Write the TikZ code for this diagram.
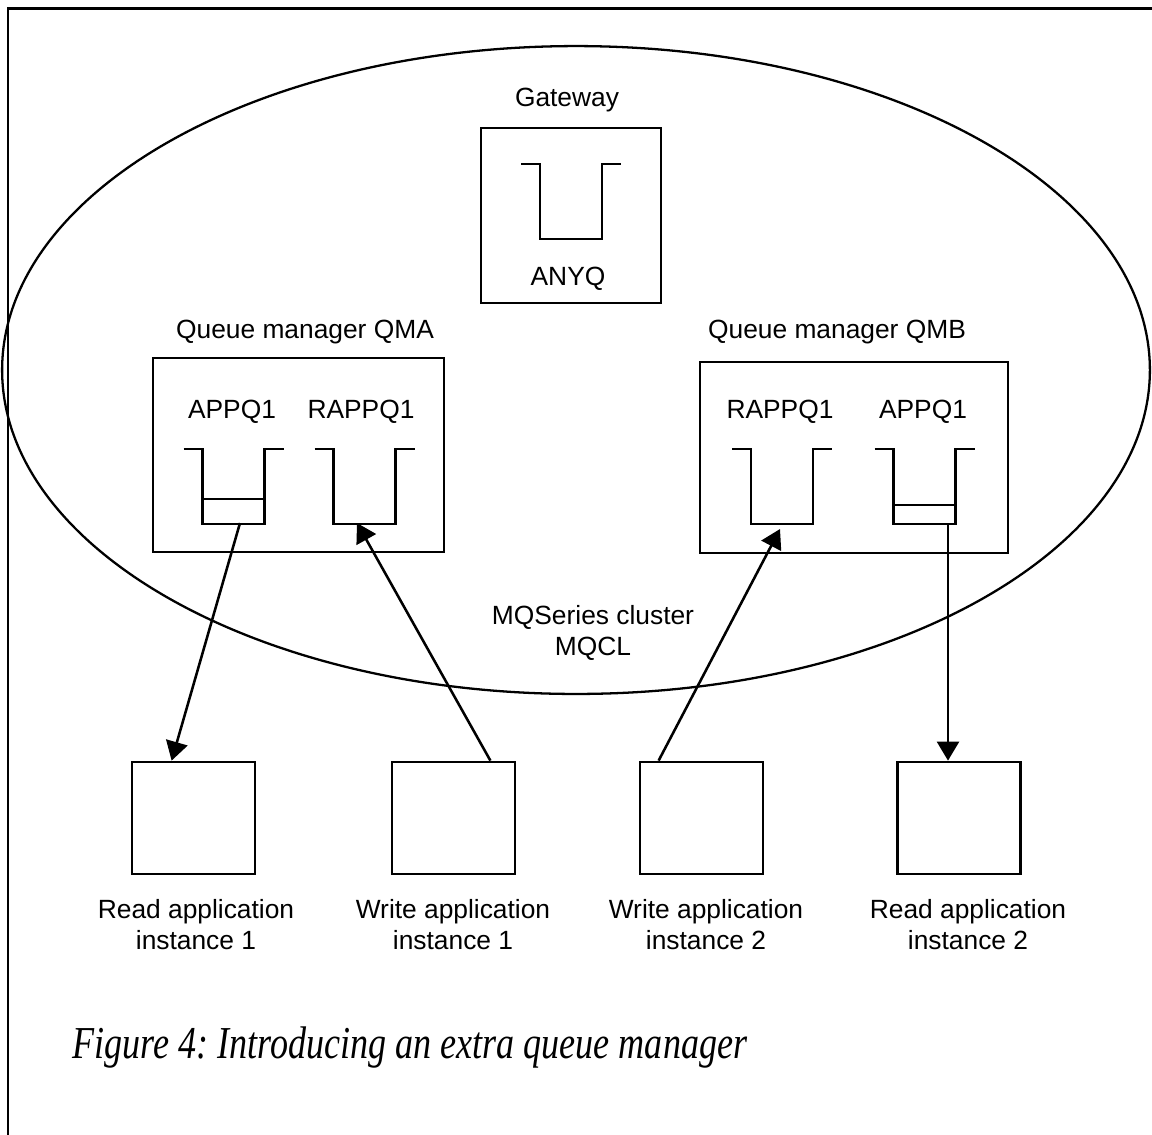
\documentclass[tikz,border=0pt]{standalone}
\usepackage{fontspec}
\usepackage{graphicx}
\usetikzlibrary{arrows.meta,shapes.geometric,calc}
\newfontfamily\labelfont{Liberation Sans}
\newfontfamily\captionfont{Liberation Serif}
\frenchspacing
\tikzset{
  lbl/.style={font=\labelfont\fontsize{15}{17.4}\selectfont, inner sep=0, align=center},
  outerframe/.style={line width=1.7pt},
  boxed/.style={draw, line width=1.6pt, inner sep=0},
  appbox/.style={boxed, minimum width=2.46cm, minimum height=2.24cm},
  qline/.style={line width=1.45pt},
  flow/.style={line width=1.45pt, -{Triangle[length=0.38cm,width=0.44cm]}},
  pics/fifo/.style={code={\draw[qline] (-50,0) -- (-31,0) -- (-31,75) -- (31,75) -- (31,0) -- (50,0);}},
}
\begin{document}
\begin{tikzpicture}[x=0.02cm,y=-0.02cm]
\useasboundingbox (0,0) rectangle (1152,1134);
% page frame (open to the right and bottom)
\draw[outerframe] (8,1140) -- (8,8) -- (1160,8);

% the cluster
\node[draw, ellipse, line width=1.3pt, inner sep=0, minimum width=22.96cm, minimum height=12.96cm] (cluster) at (576,370) {};
\node[lbl, anchor=north] (clusterlbl) at (593,605) {MQSeries cluster\\MQCL};

% gateway queue manager
\node[lbl, anchor=base] (gwlbl) at (567,106) {Gateway};
\node[boxed, minimum width=3.6cm, minimum height=3.5cm] (gw) at (571,215.5) {};
\pic at (571,164) {fifo};
\node[lbl, anchor=base] (anyq) at (568,285) {ANYQ};

% queue manager QMA
\node[lbl, anchor=base] (qmalbl) at (305,338) {Queue manager QMA};
\node[boxed, minimum width=5.82cm, minimum height=3.88cm] (qma) at (298.5,455) {};
\node[lbl, anchor=base] (qmaapp) at (232,418) {APPQ1};
\node[lbl, anchor=base] (qmarapp) at (361,418) {RAPPQ1};
\pic at (233.5,449) {fifo};
\draw[qline] (202.5,499) -- (264.5,499);
\pic at (364.5,449) {fifo};

% queue manager QMB
\node[lbl, anchor=base] (qmblbl) at (837,338) {Queue manager QMB};
\node[boxed, minimum width=6.16cm, minimum height=3.82cm] (qmb) at (854,457.5) {};
\node[lbl, anchor=base] (qmbrapp) at (780,418) {RAPPQ1};
\node[lbl, anchor=base] (qmbapp) at (923,418) {APPQ1};
\pic at (782,449) {fifo};
\pic at (924.5,449) {fifo};
\draw[qline] (893.5,505) -- (955.5,505);

% applications
\node[appbox] (read1) at (193.5,818) {};
\node[appbox] (write1) at (453.5,818) {};
\node[appbox] (write2) at (701.5,818) {};
\node[appbox] (read2) at (959,818) {};
\node[lbl, anchor=north] (read1lbl) at (196,899) {Read application\\instance 1};
\node[lbl, anchor=north] (write1lbl) at (453,899) {Write application\\instance 1};
\node[lbl, anchor=north] (write2lbl) at (706,899) {Write application\\instance 2};
\node[lbl, anchor=north] (read2lbl) at (968,899) {Read application\\instance 2};

% message flows
\coordinate (qa1out) at (240,523);
\coordinate (qa2in) at (357,523);
\coordinate (qb1in) at (780,529);
\coordinate (qb2out) at (948,524);
\draw[flow] (qa1out) -- ($(read1.north west)+(41,0)$);
\draw[flow] ($(write1.north east)+(-26,0)$) -- (qa2in);
\draw[flow] ($(write2.north west)+(20,0)$) -- (qb1in);
\draw[flow] (qb2out) -- (read2.north -| qb2out);

% caption
\node[anchor=base west, inner sep=0, font=\captionfont\itshape\fontsize{26}{30}\selectfont] (caption) at (72,1058) {\scalebox{0.79}[1]{Figure 4: Introducing an extra queue manager}};
\end{tikzpicture}
\end{document}
